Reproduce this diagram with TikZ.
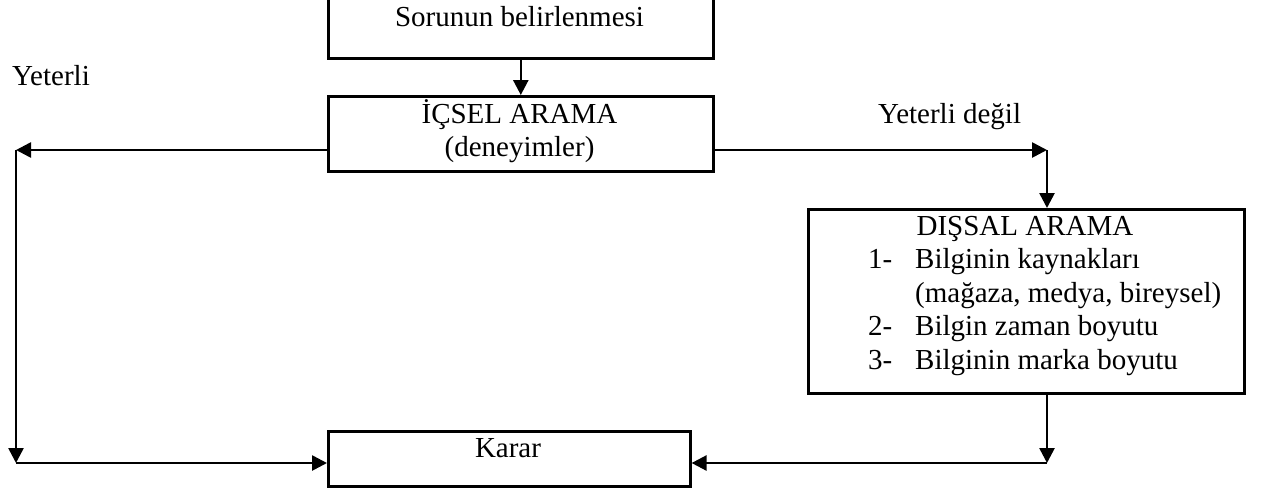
\documentclass[tikz,border=0pt]{standalone}
\usepackage{fontspec}
\setmainfont{Liberation Serif}
\usetikzlibrary{arrows.meta}
\begin{document}
\begin{tikzpicture}[x=1pt,y=-1pt,
  box/.style={draw, line width=2.6pt, inner sep=0pt, anchor=north west},
  txt/.style={font=\fontsize{29}{33.5}\selectfont, inner sep=0pt},
  arr/.style={line width=2.6pt, -{Triangle[length=15pt,width=15pt]}}]
\useasboundingbox (0,0) rectangle (1265,488);
% boxes
\node[box, minimum width=385pt, minimum height=61pt] (sorun) at (327,-4) {};
\node[box, minimum width=385pt, minimum height=75pt] (icsel) at (327,95) {};
\node[box, minimum width=436pt, minimum height=184pt] (dissal) at (807,208) {};
\node[box, minimum width=362pt, minimum height=55pt] (karar) at (327,430) {};
% texts (multi-line nodes are anchored at the baseline of their last line)
\node[txt, anchor=base] (tsorun) at (519.5,26) {Sorunun belirlenmesi};
\node[txt, anchor=base, align=center] (ticsel) at (519.5,156.5) {İÇSEL ARAMA\\(deneyimler)};
\node[txt, anchor=base] (tdissal) at (1025,235) {DIŞSAL ARAMA};
\node[txt, anchor=base west, align=left] (tlist) at (868,369)
  {\makebox[47pt][l]{1-}Bilginin kaynakları\\
   \hspace*{47pt}(mağaza, medya, bireysel)\\
   \makebox[47pt][l]{2-}Bilgin zaman boyutu\\
   \makebox[47pt][l]{3-}Bilginin marka boyutu};
\node[txt, anchor=base] (tkarar) at (508,457) {Karar};
\node[txt, anchor=base west] (lyes) at (12,85) {Yeterli};
\node[txt, anchor=base west] (lno) at (878,123) {Yeterli değil};
% corner points
\coordinate (a1) at (16,150);
\coordinate (a2) at (16,463);
\coordinate (b1) at (1047,150);
\coordinate (b2) at (1047,463);
% connectors
\draw[arr] (sorun.south) -- (icsel.north);
\draw[arr] (icsel.west |- a1) -- (a1);
\draw[arr] (a1) -- (a2);
\draw[arr] (a2) -- (karar.west |- a2);
\draw[arr] (icsel.east |- b1) -- (b1);
\draw[arr] (b1) -- (b1 |- dissal.north);
\draw[arr] (b1 |- dissal.south) -- (b2);
\draw[arr] (b2) -- (karar.east |- b2);
\end{tikzpicture}
\end{document}
